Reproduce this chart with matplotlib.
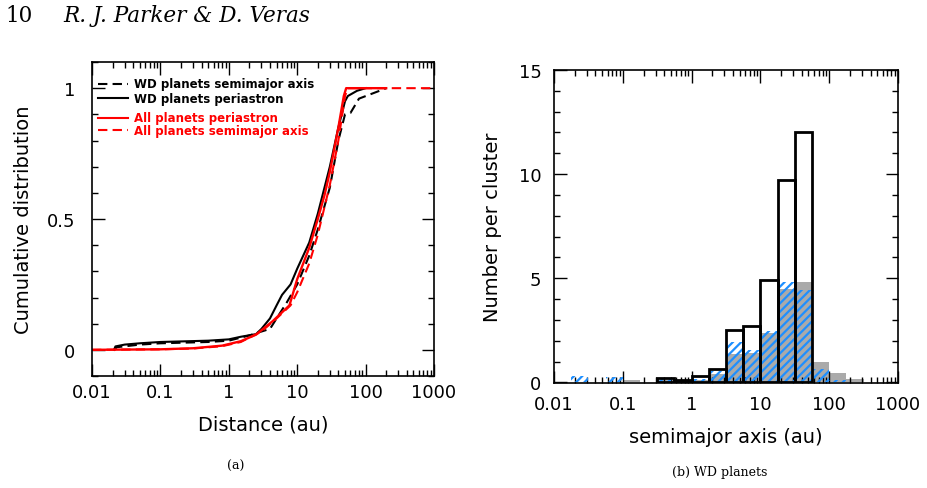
import numpy as np
import matplotlib
matplotlib.use("Agg")
import matplotlib.pyplot as plt
from matplotlib.ticker import FixedLocator, NullFormatter

# ---------------- data: panel (a) cumulative distributions ----------------
wd_sma_x = [0.021, 0.023, 0.05, 0.1, 0.5, 1.0, 2.0, 3.0, 4.0, 5.0, 7.0, 10.0,
            15.0, 20.0, 30.0, 40.0, 50.0, 60.0, 80.0, 160.0, 200.0]
wd_sma_y = [0.0, 0.01, 0.02, 0.025, 0.03, 0.035, 0.055, 0.07, 0.08, 0.12, 0.18,
            0.25, 0.36, 0.46, 0.62, 0.80, 0.90, 0.905, 0.96, 0.99, 1.0]

wd_peri_x = [0.021, 0.022, 0.03, 0.05, 0.1, 0.5, 1.0, 1.5, 2.5, 3.0, 4.0, 5.0,
             6.0, 8.0, 10.0, 15.0, 20.0, 30.0, 40.0, 50.0, 55.0, 75.0, 100.0]
wd_peri_y = [0.0, 0.013, 0.02, 0.025, 0.03, 0.035, 0.04, 0.05, 0.06, 0.08, 0.12,
             0.17, 0.21, 0.25, 0.31, 0.41, 0.52, 0.70, 0.85, 0.95, 0.97, 0.99, 1.0]

all_peri_x = [0.01, 0.1, 0.3, 0.8, 1.5, 2.5, 4.4, 7.7, 10.0, 15.0, 20.0, 25.0,
              30.0, 40.0, 48.0, 52.0, 200.0]
all_peri_y = [0.0, 0.002, 0.006, 0.016, 0.033, 0.058, 0.11, 0.17, 0.27, 0.39,
              0.50, 0.59, 0.68, 0.85, 0.97, 1.0, 1.0]

all_sma_x = [0.01, 0.1, 0.3, 0.8, 1.5, 3.0, 5.0, 8.0, 10.0, 15.0, 20.0, 30.0,
             40.0, 50.0, 55.0, 1000.0]
all_sma_y = [0.0, 0.002, 0.005, 0.014, 0.03, 0.07, 0.12, 0.17, 0.22, 0.33,
             0.44, 0.63, 0.80, 0.97, 1.0, 1.0]

legend_labels = ["WD planets semimajor axis", "WD planets periastron",
                 "All planets periastron", "All planets semimajor axis"]

# ---------------- data: panel (b) histogram ----------------
bin_exp = [-1.75, -1.5, -1.25, -1.0, -0.75, -0.5, -0.25, 0.0, 0.25, 0.5, 0.75,
           1.0, 1.25, 1.5, 1.75, 2.0, 2.25, 2.5]          # log10 bin edges (au)
blue_counts = [0.3, 0.0, 0.25, 0.0, 0.0, 0.18, 0.08, 0.15, 0.55, 1.92, 1.55,
               2.45, 4.82, 4.42, 0.63, 0.12, 0.0]
gray_counts = [0.0, 0.0, 0.0, 0.12, 0.0, 0.1, 0.08, 0.1, 0.38, 1.38, 1.43,
               2.36, 4.5, 4.82, 0.98, 0.47, 0.14]
black_counts = [0.0, 0.0, 0.0, 0.0, 0.0, 0.22, 0.11, 0.3, 0.62, 2.5, 2.7,
                4.92, 9.7, 12.0, 0.0, 0.0, 0.0]

xtick_vals = [0.01, 0.1, 1, 10, 100, 1000]
xtick_labels = ["0.01", "0.1", "1", "10", "100", "1000"]

# ---------------- figure ----------------
W, H = 928, 489
fig = plt.figure(figsize=(W / 100, H / 100), dpi=100)
plt.rcParams['hatch.linewidth'] = 1.6


def frac(x0, y0, x1, y1):
    return [x0 / W, 1 - y1 / H, (x1 - x0) / W, (y1 - y0) / H]


minor_x = [m * 10.0 ** e for e in range(-2, 3) for m in range(2, 10)]


def style_axes(ax, ypad, xpad):
    for s in ax.spines.values():
        s.set_linewidth(1.2)
    ax.set_xscale('log')
    ax.set_xlim(0.01, 1000)
    ax.xaxis.set_major_locator(FixedLocator(xtick_vals))
    ax.xaxis.set_minor_locator(FixedLocator(minor_x))
    ax.set_xticklabels(xtick_labels)
    ax.xaxis.set_minor_formatter(NullFormatter())
    ax.tick_params(which='both', direction='in', top=True, right=True,
                   width=1.0, labelsize=13)
    ax.tick_params(which='major', length=9)
    ax.tick_params(which='minor', length=4.5)
    ax.tick_params(axis='y', pad=ypad)
    ax.tick_params(axis='x', pad=xpad)


# ---- panel (a)
ax1 = fig.add_axes(frac(92, 63, 434, 377))
style_axes(ax1, ypad=12, xpad=5)
ax1.set_ylim(-0.1, 1.1)
ax1.yaxis.set_major_locator(FixedLocator([0, 0.5, 1]))
ax1.yaxis.set_minor_locator(FixedLocator([-0.1, 0.1, 0.2, 0.3, 0.4, 0.6, 0.7,
                                          0.8, 0.9, 1.1]))
ax1.set_yticklabels(["0", "0.5", "1"])

ax1.plot(wd_sma_x, wd_sma_y, color='black', lw=1.5, dashes=(4.5, 2.5))
ax1.plot(wd_peri_x, wd_peri_y, color='black', lw=1.5)
ax1.plot(all_sma_x, all_sma_y, color='red', lw=1.5, dashes=(4.5, 2.5))
ax1.plot(all_peri_x, all_peri_y, color='red', lw=1.7)

ax1.set_xlabel("Distance (au)", fontsize=14, labelpad=10)
ax1.set_ylabel("Cumulative distribution", fontsize=14, labelpad=10)

leg_rows = [0.930, 0.885, 0.822, 0.783]
leg_colors = ['black', 'black', 'red', 'red']
leg_dashed = [True, False, False, True]
for yy, lab, c, d in zip(leg_rows, legend_labels, leg_colors, leg_dashed):
    kw = dict(dashes=(4.5, 2.5)) if d else {}
    ax1.plot([0.018, 0.106], [yy, yy], transform=ax1.transAxes, color=c,
             lw=1.5, **kw)
    ax1.text(0.123, yy, lab, transform=ax1.transAxes, color=c, fontsize=8.5,
             fontweight='bold', va='center', ha='left')

# ---- panel (b)
ax2 = fig.add_axes(frac(554, 71, 898, 384))
style_axes(ax2, ypad=9, xpad=9)
ax2.set_ylim(-0.03, 15)
ax2.yaxis.set_major_locator(FixedLocator([0, 5, 10, 15]))
ax2.yaxis.set_minor_locator(FixedLocator([1, 2, 3, 4, 6, 7, 8, 9, 11, 12, 13, 14]))
ax2.set_yticklabels(["0", "5", "10", "15"])

edges = 10.0 ** np.array(bin_exp)
lefts = edges[:-1]
widths = np.diff(edges)
ax2.bar(lefts, gray_counts, width=widths, align='edge', color='#aaaaaa',
        linewidth=0, zorder=1)
ax2.bar(lefts, blue_counts, width=widths, align='edge', fill=False,
        hatch='////', edgecolor='#1e8fff', linewidth=0, zorder=2)
bl = [i for i, v in enumerate(black_counts) if v > 0]
ax2.bar(lefts[bl], [black_counts[i] for i in bl], width=widths[bl],
        align='edge', fill=False, edgecolor='black', linewidth=2.0, zorder=3)

ax2.set_xlabel("semimajor axis (au)", fontsize=14, labelpad=10)
ax2.set_ylabel("Number per cluster", fontsize=14, labelpad=12)

# ---- page header and captions
fig.text(5 / W, 1 - 16 / H, "10", fontsize=15.5, family='DejaVu Serif',
         va='center', ha='left')
fig.text(63 / W, 1 - 16 / H, "R. J. Parker & D. Veras", fontsize=15.5,
         family='DejaVu Serif', style='italic', va='center', ha='left')
fig.text(236 / W, 1 - 466 / H, "(a)", fontsize=9, family='DejaVu Serif',
         va='center', ha='center')
fig.text(720 / W, 1 - 473 / H, "(b) WD planets", fontsize=9,
         family='DejaVu Serif', va='center', ha='center')

fig.savefig("out.png", dpi=100)
